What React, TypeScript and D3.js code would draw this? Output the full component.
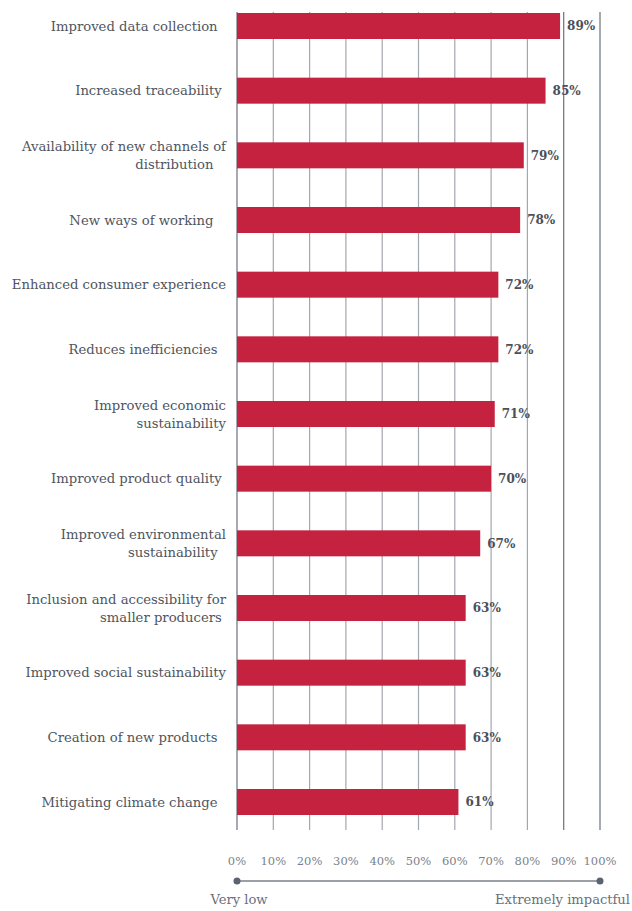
import React from "react";
import * as d3 from "d3";

const categories: string[][] = [
  ["Improved data collection  "],
  ["Increased traceability "],
  ["Availability of new channels of", "distribution   "],
  ["New ways of working   "],
  ["Enhanced consumer experience"],
  ["Reduces inefficiencies  "],
  ["Improved economic", "sustainability"],
  ["Improved product quality "],
  ["Improved environmental", "sustainability  "],
  ["Inclusion and accessibility for", "smaller producers "],
  ["Improved social sustainability"],
  ["Creation of new products  "],
  ["Mitigating climate change  "],
];
const values: number[] = [89, 85, 79, 78, 72, 72, 71, 70, 67, 63, 63, 63, 61];
const ticks: number[] = [0, 10, 20, 30, 40, 50, 60, 70, 80, 90, 100];
const scaleLabels = ["Very low", "Extremely impactful"];

const W = 632;
const H = 911;
const FONT = "'DejaVu Serif', serif";

export default function App() {
  const x = d3.scaleLinear().domain([0, 100]).range([237, 600]);
  const ids = categories.map((_, i) => String(i));
  const y = d3.scaleBand().domain(ids).range([13, 815]).paddingInner(0.598).paddingOuter(0);
  const bh = y.bandwidth();
  return (
    <svg width={W} height={H} style={{ position: "absolute", left: 0, top: 0 }}>
      <rect width={W} height={H} fill="#fff" />
      {ticks.map((t) => (
        <line key={t} x1={x(t)} x2={x(t)} y1={12} y2={830}
          stroke={t === 0 || t === 100 || t === 90 ? "#6b717c" : "#a3a7ae"} strokeWidth={1.2} />
      ))}
      {values.map((v, i) => {
        const yc = (y(ids[i]) as number) + bh / 2;
        const lines = categories[i];
        const lh = 18;
        return (
          <g key={i}>
            <rect x={x(0)} y={y(ids[i])} width={x(v) - x(0)} height={bh} fill="#c4223f" />
            <text x={x(v) + 7} y={yc} dy="0.35em" fontFamily={FONT} fontWeight="bold"
              fontSize={12} fill="#4b505a">{v}%</text>
            {lines.map((l, j) => (
              <text key={j} x={226} y={yc + (j - (lines.length - 1) / 2) * lh} dy="0.35em"
                textAnchor="end" fontFamily={FONT} fontSize={13.2} fill="#50555e"
                style={{ whiteSpace: "pre" }}>{l}</text>
            ))}
          </g>
        );
      })}
      {ticks.map((t) => (
        <text key={t} x={x(t)} y={861} dy="0.35em" textAnchor="middle" fontFamily={FONT}
          fontSize={11.5} fill="#7a7f88">{t}%</text>
      ))}
      <line x1={x(0)} x2={x(100)} y1={881} y2={881} stroke="#7a7f88" strokeWidth={1.5} />
      <circle cx={x(0)} cy={881} r={3.5} fill="#5c6370" />
      <circle cx={x(100)} cy={881} r={3.5} fill="#5c6370" />
      <text x={x(0) + 2} y={899} dy="0.35em" textAnchor="middle" fontFamily={FONT}
        fontSize={13.1} fill="#6a707a">{scaleLabels[0]}</text>
      <text x={630} y={899} dy="0.35em" textAnchor="end" fontFamily={FONT}
        fontSize={13.1} fill="#6a707a">{scaleLabels[1]}</text>
    </svg>
  );
}
